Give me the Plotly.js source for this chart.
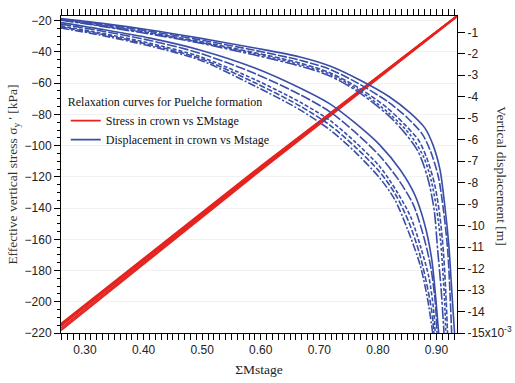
<!DOCTYPE html>
<html>
<head>
<meta charset="utf-8">
<script src="https://cdn.plot.ly/plotly-3.0.1.min.js"></script>
<style>html,body{margin:0;padding:0;background:#fff;}#chart{width:515px;height:383px;}</style>
</head>
<body>
<div id="chart"></div>
<script>
// ---- Data ----
// Stress in crown vs ΣMstage (kPa), several nearly coincident runs
const stressX = [0.259, 0.60, 0.935];
const stressRun1 = [-214.0, -113.2, -17.0];
const stressRun2 = [-215.5, -114.2, -17.0];
const stressRun3 = [-217.0, -115.0, -17.2];
const stressRun4 = [-218.3, -115.8, -17.4];
const stressRun5 = [-214.8, -113.7, -16.9];

// Displacement in crown vs Mstage (m) – upper bundle
const upX1 = [0.259,0.326,0.411,0.496,0.590,0.667,0.718,0.769,0.820,0.855,0.880,0.894,0.906,0.914,0.921,0.926,0.931];
const upY1 = [-0.36,-0.57,-0.89,-1.27,-1.73,-2.15,-2.57,-3.22,-4.01,-4.75,-5.45,-6.24,-7.40,-9.03,-10.90,-12.99,-15.1];
const upX2 = [0.259,0.326,0.411,0.496,0.590,0.667,0.718,0.769,0.818,0.851,0.876,0.890,0.903,0.912,0.919,0.923,0.926];
const upY2 = [-0.39,-0.62,-0.95,-1.35,-1.84,-2.30,-2.72,-3.42,-4.25,-5.00,-5.75,-6.55,-7.70,-9.30,-11.1,-13.1,-15.1];
const upX3 = [0.259,0.326,0.411,0.496,0.590,0.667,0.718,0.769,0.815,0.846,0.870,0.884,0.897,0.906,0.912,0.916,0.919];
const upY3 = [-0.41,-0.67,-1.02,-1.43,-1.95,-2.43,-2.88,-3.62,-4.50,-5.30,-6.05,-6.90,-8.10,-9.60,-11.3,-13.2,-15.1];
const upX4 = [0.259,0.326,0.411,0.496,0.590,0.667,0.718,0.769,0.826,0.867,0.885,0.896,0.902,0.908,0.913];
const upY4 = [-0.43,-0.71,-1.08,-1.50,-2.06,-2.57,-3.03,-3.82,-5.08,-6.47,-7.78,-9.27,-11.13,-12.99,-15.1];
const upX5 = [0.259,0.326,0.411,0.496,0.590,0.667,0.718,0.769,0.820,0.856,0.878,0.891,0.900,0.907,0.911,0.914,0.916];
const upY5 = [-0.42,-0.69,-1.05,-1.47,-2.00,-2.50,-2.95,-3.72,-4.80,-5.80,-6.80,-7.90,-9.20,-10.70,-12.2,-13.6,-15.1];

// Displacement in crown vs Mstage (m) – lower bundle
const loX1 = [0.259,0.326,0.411,0.496,0.590,0.667,0.718,0.761,0.803,0.838,0.863,0.880,0.892,0.899,0.904];
const loY1 = [-0.55,-0.85,-1.27,-1.82,-2.66,-3.59,-4.33,-5.22,-6.24,-7.40,-8.57,-9.96,-11.59,-13.45,-15.1];
const loX2 = [0.259,0.326,0.411,0.496,0.590,0.667,0.718,0.761,0.803,0.836,0.860,0.877,0.890,0.898,0.901];
const loY2 = [-0.62,-0.93,-1.38,-1.97,-2.92,-3.90,-4.70,-5.65,-6.75,-7.90,-9.00,-10.40,-11.9,-13.6,-15.1];
const loX3 = [0.259,0.326,0.411,0.496,0.590,0.667,0.718,0.761,0.803,0.832,0.856,0.873,0.887,0.895,0.898];
const loY3 = [-0.70,-1.03,-1.51,-2.13,-3.20,-4.25,-5.10,-6.10,-7.25,-8.40,-9.60,-11.0,-12.4,-13.9,-15.1];
const loX4 = [0.259,0.326,0.411,0.496,0.590,0.667,0.718,0.761,0.803,0.829,0.851,0.872,0.885,0.894];
const loY4 = [-0.80,-1.13,-1.64,-2.29,-3.50,-4.61,-5.54,-6.57,-7.78,-8.80,-10.20,-11.83,-13.45,-15.1];
const loX5 = [0.259,0.326,0.411,0.496,0.590,0.667,0.718,0.761,0.803,0.830,0.853,0.871,0.884,0.892,0.896];
const loY5 = [-0.75,-1.08,-1.58,-2.21,-3.35,-4.43,-5.32,-6.33,-7.50,-8.55,-9.85,-11.3,-12.8,-14.0,-15.1];

// Tick labels
const xTickVals = [0.30,0.35,0.40,0.45,0.50,0.55,0.60,0.65,0.70,0.75,0.80,0.85,0.90];
const xTickText = ['0.30',' ','0.40',' ','0.50',' ','0.60',' ','0.70',' ','0.80',' ','0.90'];
const y2TickValsMm = [-1,-2,-3,-4,-5,-6,-7,-8,-9,-10,-11,-12,-13,-14,-15];
const y2TickText = ['-1','-2','-3','-4','-5','-6','-7','-8','-9','-10','-11','-12','-13','-14','-15x10<sup>-3</sup>'];

// ---- Build traces ----
const RED = '#e5231f';
const BLUE = '#3a4ea8';
const mmToM = v => v / 1000;

const traces = [];
[stressRun1, stressRun2, stressRun3, stressRun4, stressRun5].forEach((ys, i) => {
  traces.push({
    type: 'scatter', mode: 'lines', x: stressX, y: ys,
    xaxis: 'x', yaxis: 'y',
    line: {color: RED, width: 1.8},
    name: 'Stress in crown vs ΣMstage',
    legendgroup: 'stress', showlegend: i === 0
  });
});

const blue = [
  [upX1, upY1, 'solid'], [upX2, upY2, '9px,2px'], [upX3, upY3, '5px,2px'], [upX5, upY5, '3px,2px'], [upX4, upY4, '12px,2px,3px,2px'],
  [loX1, loY1, 'solid'], [loX2, loY2, '10px,2px'], [loX3, loY3, '4px,2px'], [loX5, loY5, '6px,2px'], [loX4, loY4, '8px,2px,2px,2px']
];
blue.forEach((b, i) => {
  traces.push({
    type: 'scatter', mode: 'lines', x: b[0], y: b[1].map(mmToM),
    xaxis: 'x', yaxis: 'y2', line: {color: BLUE, width: 1.6, dash: b[2], shape: 'spline', smoothing: 0.8},
    name: 'Displacement in crown vs Mstage',
    legendgroup: 'disp', showlegend: i === 0
  });
});

const serif = 'Liberation Serif';
const sans = 'Liberation Sans';

const layout = {
  width: 515, height: 383,
  margin: {l: 61, r: 58, t: 16, b: 50},
  paper_bgcolor: '#fff', plot_bgcolor: '#fff',
  font: {family: serif},
  showlegend: true,
  legend: {
    x: 0.012, y: 0.765, xanchor: 'left', yanchor: 'top',
    bgcolor: 'rgba(0,0,0,0)', borderwidth: 0,
    font: {family: serif, size: 12, color: '#111'},
    title: {text: 'Relaxation curves for Puelche formation', side: 'top', font: {family: serif, size: 12, color: '#111'}},
    tracegroupgap: 0, itemwidth: 30
  },
  xaxis: {
    range: [0.259, 0.935], tickmode: 'array', tickvals: xTickVals, ticktext: xTickText,
    ticks: 'outside', ticklen: 6, tickwidth: 1, tickcolor: '#000',
    showline: true, linecolor: '#000', linewidth: 1, mirror: 'allticks',
    minor: {tickmode: 'linear', tick0: 0.30, dtick: 0.01, ticks: 'outside', ticklen: 3.5, tickcolor: '#000', showgrid: false},
    showgrid: false, zeroline: false,
    tickfont: {family: sans, size: 12, color: '#222'},
    title: {text: 'ΣMstage', font: {family: serif, size: 13.5, color: '#222'}, standoff: 8}
  },
  yaxis: {
    range: [-220, -17], tickmode: 'linear', tick0: -20, dtick: 20,
    ticks: 'outside', ticklen: 6, tickwidth: 1, tickcolor: '#000',
    showline: true, linecolor: '#000', linewidth: 1, mirror: false,
    minor: {tickmode: 'linear', tick0: -20, dtick: 5, ticks: 'outside', ticklen: 3.5, tickcolor: '#000', showgrid: false},
    showgrid: true, gridcolor: '#f1f1f1', zeroline: false,
    tickfont: {family: sans, size: 12, color: '#222'},
    title: {text: "Effective vertical stress σ<sub>y</sub> ' [kPa]", font: {family: serif, size: 13.5, color: '#333'}, standoff: 3}
  },
  yaxis2: {
    overlaying: 'y', side: 'right', anchor: 'x',
    range: [-0.015, -0.00024], tickmode: 'array', tickvals: y2TickValsMm.map(mmToM), ticktext: y2TickText,
    ticks: 'outside', ticklen: 7, tickwidth: 1, tickcolor: '#000',
    showline: true, linecolor: '#000', linewidth: 1,
    showgrid: false, zeroline: false,
    tickfont: {family: sans, size: 12, color: '#222'}
  },
  annotations: [{
    text: 'Vertical displacement [m]', xref: 'paper', yref: 'paper',
    x: 1.113, y: 0.495, xanchor: 'center', yanchor: 'middle', textangle: 90, showarrow: false,
    font: {family: serif, size: 13.5, color: '#333'}
  }]
};

Plotly.newPlot('chart', traces, layout, {staticPlot: true, displayModeBar: false});
</script>
</body>
</html>
